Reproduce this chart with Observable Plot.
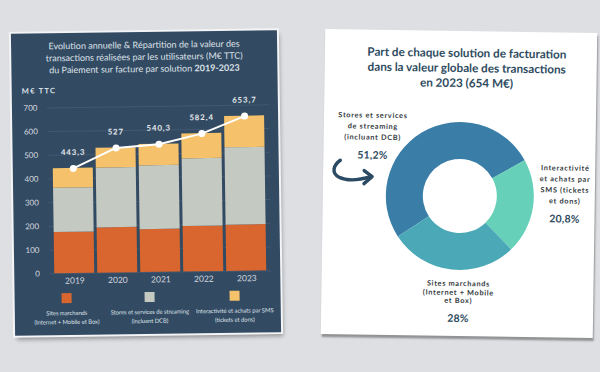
<!DOCTYPE html>
<html><head><meta charset="utf-8">
<script src="https://cdn.jsdelivr.net/npm/d3@7"></script>
<script src="https://cdn.jsdelivr.net/npm/@observablehq/plot@0.6"></script>
<style>
html,body{margin:0;padding:0;}
body{width:600px;height:372px;background:#dedfe2;position:relative;overflow:hidden;font-family:Lato,"Open Sans",sans-serif;}
.panel{position:absolute;}
#left{left:13px;top:32px;width:266px;height:302px;background:#334a63;box-shadow:0 0 0 2px #f3f4f5, 2px 4px 4px rgba(0,0,0,.35);transform:rotate(-0.8deg);}
#right{left:323px;top:31px;width:272px;height:305px;background:#fff;box-shadow:1px 3px 2px rgba(0,0,0,.35);transform:rotate(0.85deg);}
.abs{position:absolute;}
#ltitle{left:0;top:7px;width:266px;text-align:center;color:#dde2e8;font-size:9px;line-height:12.2px;}
#unit{left:10px;top:53px;color:#dde2e8;font-size:7.5px;font-weight:bold;letter-spacing:1.3px;}
.leg{width:90px;text-align:center;color:#dde2e8;font-size:5.9px;line-height:9px;letter-spacing:-0.05px;white-space:nowrap;}
.leg .sw{width:10px;height:10px;margin:0 auto 5px auto;}
.lp [aria-label^="x-axis"] text{font-size:8.5px;}
.lp [aria-label^="y-axis"] text{font-size:8px;}
.lp g[aria-label="text"] text{letter-spacing:0.9px;}
#rtitle{left:6px;top:14px;width:272px;text-align:center;color:#2e4b60;font-size:11.7px;font-weight:bold;line-height:15.2px;}
.dl{text-align:center;color:#333a40;font-size:7.3px;font-weight:bold;letter-spacing:0.7px;width:100px;}
.pct{color:#2e4b60;font-size:10.5px;font-weight:bold;margin-top:6px;letter-spacing:0.2px;}
</style>
</head><body>
<div id="left" class="panel">
  <div id="ltitle" class="abs">Evolution annuelle &amp; Répartition de la valeur des<br>transactions réalisées par les utilisateurs (M€ TTC)<br>du Paiement sur facture par solution <b>2019-2023</b></div>
  <div id="unit" class="abs">M€ TTC</div>
  <div id="lplot" class="abs" style="left:0;top:48px;"></div>
  <div id="legend"></div>
</div>
<div id="right" class="panel">
  <div id="rtitle" class="abs">Part de chaque solution de facturation<br>dans la valeur globale des transactions<br>en 2023 (654 M€)</div>
  <div id="rplot" class="abs" style="left:0;top:80px;"></div>
  <div id="rlabels"></div>
  <svg class="abs" style="left:0;top:120px;" width="70" height="50">
    <path d="M17,11 C10,16 8,24 16,28 C24,32 38,30 48,27" fill="none" stroke="#2b4a63" stroke-width="3.4" stroke-linecap="round"/>
    <path d="M41,21 L49,27 L41,34" fill="none" stroke="#2b4a63" stroke-width="3.4" stroke-linecap="round" stroke-linejoin="round"/>
  </svg>
</div>
<script>
// ---- Data: bar chart (M€ TTC)
const years = ["2019","2020","2021","2022","2023"];
const seriesNames = ["Sites marchands","Stores et services de streaming","Interactivité et achats par SMS"];
const legendLine2 = ["(Internet + Mobile et Box)","(incluant DCB)","(tickets et dons)"];
const sitesValues = [174, 191, 181, 192, 195];
const streamingValues = [187, 252, 269, 285, 326];
const smsValues = [82.3, 84, 90.3, 105.4, 132.7];
const totals = [443.3, 527, 540.3, 582.4, 653.7];
const totalLabels = ["443,3","527","540,3","582,4","653,7"];
const yTicks = [0,100,200,300,400,500,600,700];
// ---- Data: donut 2023 (%)
const shareNames = ["Stores et services de streaming","Interactivité et achats par SMS","Sites marchands"];
const shareValues = [51.2, 20.8, 28];
const shareLabelLines = [["Stores et services","de streaming","(incluant DCB)"],["Interactivité","et achats par","SMS (tickets","et dons)"],["Sites marchands","(Internet + Mobile","et Box)"]];
const sharePctLabels = ["51,2%","20,8%","28%"];

// ---- Styles
const barColors = ["#d8662e","#c4c9c1","#f5c26b"];
const donutColors = ["#3a7ea8","#66d1b8","#4ba9b7"];

// ---- Bar chart
const rows = [];
years.forEach((y,i)=>{
  rows.push({year:y, series:seriesNames[0], value:sitesValues[i]});
  rows.push({year:y, series:seriesNames[1], value:streamingValues[i]});
  rows.push({year:y, series:seriesNames[2], value:smsValues[i]});
});
const totalRows = years.map((y,i)=>({year:y, total:totals[i], label:totalLabels[i]}));

const leftPlot = Plot.plot({
  width:266, height:212,
  marginLeft:35, marginRight:9, marginTop:26, marginBottom:20,
  className:"lp",
  style:{background:"transparent", color:"#d3d9df", fontFamily:"Lato, sans-serif", fontSize:"8px", overflow:"visible"},
  x:{domain:years, padding:0.08, tickSize:0, tickPadding:4, label:null},
  y:{domain:[0,700], ticks:yTicks, tickSize:0, tickPadding:10, label:null, grid:true},
  color:{domain:seriesNames, range:barColors},
  marks:[
    Plot.barY(rows, {x:"year", y:"value", fill:"series", order:seriesNames}),
    Plot.line(totalRows, {x:"year", y:"total", stroke:"#ffffff", strokeWidth:2}),
    Plot.dot(totalRows, {x:"year", y:"total", r:3.5, fill:"#ffffff"}),
    Plot.text(totalRows, {x:"year", y:"total", text:"label", dy:-16, fill:"#e6eaee", fontWeight:"bold", fontSize:7.8})
  ]
});
document.getElementById("lplot").appendChild(leftPlot);

// legend
const legendCenters = [52,135,220];
const legendLine1 = ["Sites marchands","Stores et services de streaming","Interactivité et achats par SMS"];
const legend = document.getElementById("legend");
seriesNames.forEach((n,i)=>{
  const d = document.createElement("div");
  d.className = "abs leg";
  d.style.left = (legendCenters[i]-45)+"px";
  d.style.top = "260px";
  d.innerHTML = `<div class="sw" style="background:${barColors[i]}"></div>${legendLine1[i]}<br>${legendLine2[i]}`;
  legend.appendChild(d);
});

// ---- Donut chart
const pieRows = shareNames.map((n,i)=>({name:n, share:shareValues[i]}));
const donutColor = d3.scaleOrdinal(shareNames, donutColors);
const startAngle = 236 * Math.PI/180;
function donutMark(index, scales, values, dims){
  const w = (dims && dims.width) || 272, h = (dims && dims.height) || 170;
  const g = d3.create("svg:g").attr("transform", `translate(${w/2+1},${h/2})`);
  const arcs = d3.pie().sort(null).value(d=>d.share).startAngle(startAngle).endAngle(startAngle+2*Math.PI)(pieRows);
  const arc = d3.arc().innerRadius(37).outerRadius(74);
  g.selectAll("path").data(arcs).join("path").attr("d", arc).attr("fill", d=>donutColor(d.data.name));
  return g.node();
}
const rightPlot = Plot.plot({
  width:272, height:170, margin:0,
  style:{background:"transparent", overflow:"visible"},
  marks:[donutMark]
});
document.getElementById("rplot").appendChild(rightPlot);

const labelPos = [[49,80],[242,130],[137,249]];
const labelLH = [11, 11, 8.6];
const rl = document.getElementById("rlabels");
shareNames.forEach((n,i)=>{
  const d = document.createElement("div");
  d.className = "abs dl";
  d.style.left = (labelPos[i][0]-50)+"px";
  d.style.top = labelPos[i][1]+"px";
  d.style.lineHeight = labelLH[i]+"px";
  d.innerHTML = shareLabelLines[i].join("<br>") + `<div class="pct" style="line-height:12px">${sharePctLabels[i]}</div>`;
  rl.appendChild(d);
});
</script>
</body></html>
